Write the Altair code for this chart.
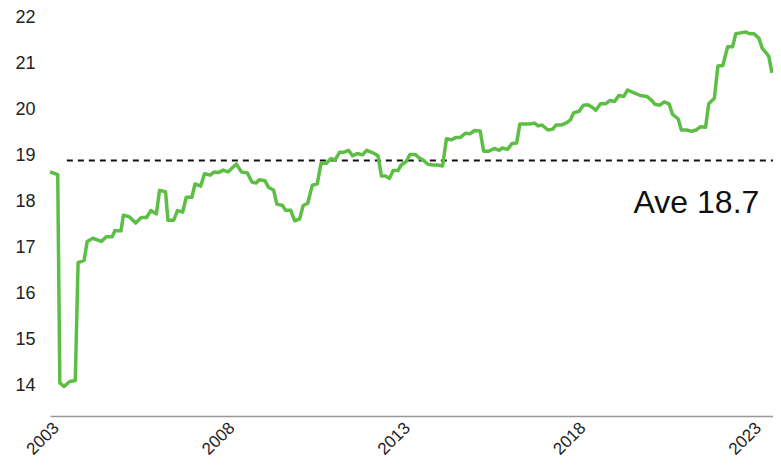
import altair as alt
import pandas as pd

years = [2002.83, 2003.05, 2003.11, 2003.23, 2003.39, 2003.55, 2003.63, 2003.80, 2003.89, 2004.05,
         2004.29, 2004.43, 2004.60, 2004.68, 2004.85, 2004.92, 2005.08, 2005.27, 2005.43, 2005.58,
         2005.70, 2005.86, 2005.95, 2006.12, 2006.19, 2006.35, 2006.46, 2006.61, 2006.71, 2006.87,
         2006.96, 2007.12, 2007.23, 2007.39, 2007.51, 2007.64, 2007.76, 2007.90, 2008.04, 2008.14,
         2008.28, 2008.45, 2008.58, 2008.70, 2008.79, 2008.95, 2009.05, 2009.20, 2009.29, 2009.45,
         2009.54, 2009.68, 2009.80, 2009.94, 2010.04, 2010.17, 2010.30, 2010.44, 2010.55, 2010.70,
         2010.83, 2010.95, 2011.08, 2011.21, 2011.33, 2011.45, 2011.58, 2011.73, 2011.85, 2012.01,
         2012.17, 2012.27, 2012.39, 2012.50, 2012.60, 2012.74, 2012.83, 2012.97, 2013.08, 2013.23,
         2013.35, 2013.46, 2013.58, 2013.72, 2013.86, 2014.01, 2014.12, 2014.27, 2014.38, 2014.52,
         2014.66, 2014.80, 2014.92, 2015.08, 2015.18, 2015.32, 2015.49, 2015.62, 2015.71, 2015.86,
         2015.99, 2016.12, 2016.21, 2016.35, 2016.49, 2016.63, 2016.73, 2016.84, 2017.01, 2017.15,
         2017.24, 2017.40, 2017.55, 2017.65, 2017.74, 2017.90, 2018.02, 2018.15, 2018.28, 2018.37,
         2018.51, 2018.65, 2018.77, 2018.91, 2019.03, 2019.17, 2019.28, 2019.45, 2019.64, 2019.83,
         2019.97, 2020.06, 2020.20, 2020.32, 2020.46, 2020.56, 2020.72, 2020.81, 2020.97, 2021.09,
         2021.23, 2021.35, 2021.50, 2021.59, 2021.75, 2021.85, 2021.99, 2022.13, 2022.27, 2022.36,
         2022.50, 2022.64, 2022.75, 2022.88, 2023.02, 2023.11, 2023.23, 2023.30, 2023.39]

values = [18.64, 18.58, 14.06, 13.98, 14.09, 14.11, 16.67, 16.72, 17.13, 17.20,
          17.13, 17.23, 17.23, 17.37, 17.36, 17.70, 17.67, 17.53, 17.65, 17.65,
          17.80, 17.73, 18.24, 18.21, 17.59, 17.59, 17.80, 17.77, 18.09, 18.09,
          18.38, 18.33, 18.60, 18.57, 18.64, 18.63, 18.68, 18.64, 18.74, 18.81,
          18.64, 18.62, 18.42, 18.40, 18.47, 18.45, 18.31, 18.24, 17.94, 17.91,
          17.81, 17.81, 17.58, 17.62, 17.91, 17.96, 18.35, 18.38, 18.83, 18.83,
          18.93, 18.90, 19.07, 19.07, 19.11, 18.99, 19.04, 19.01, 19.11, 19.06,
          18.99, 18.55, 18.55, 18.50, 18.67, 18.67, 18.79, 18.86, 19.02, 19.02,
          18.94, 18.90, 18.81, 18.79, 18.79, 18.77, 19.36, 19.34, 19.39, 19.39,
          19.48, 19.47, 19.54, 19.53, 19.09, 19.09, 19.15, 19.11, 19.16, 19.13,
          19.26, 19.27, 19.68, 19.68, 19.68, 19.70, 19.64, 19.66, 19.55, 19.57,
          19.66, 19.66, 19.71, 19.77, 19.92, 19.96, 20.09, 20.10, 20.04, 19.98,
          20.12, 20.12, 20.19, 20.17, 20.30, 20.28, 20.42, 20.36, 20.30, 20.28,
          20.19, 20.11, 20.09, 20.16, 20.12, 19.89, 19.79, 19.55, 19.55, 19.52,
          19.55, 19.62, 19.61, 20.12, 20.24, 20.94, 20.95, 21.36, 21.36, 21.64,
          21.66, 21.68, 21.64, 21.64, 21.54, 21.33, 21.22, 21.15, 20.79]

x_ticks = [2003, 2008, 2013, 2018, 2023]
y_ticks = [14, 15, 16, 17, 18, 19, 20, 21, 22]
avg_level = 18.89
avg_start = 2003.31
avg_label = "Ave 18.7"
label_pos = [2019.45, 17.745]

x_domain = [2002.83, 2023.42]
y_domain = [13.34, 22.2]

FONT = "Liberation Sans"

df = pd.DataFrame({"year": years, "value": values})
avg_df = pd.DataFrame({"x": [avg_start], "x2": [x_domain[1]], "y": [avg_level]})
txt_df = pd.DataFrame({"x": [label_pos[0]], "y": [label_pos[1]], "t": [avg_label]})

xscale = alt.Scale(domain=x_domain, nice=False, zero=False)
yscale = alt.Scale(domain=y_domain, nice=False, zero=False)

line = alt.Chart(df).mark_line(color="#5dbe46", strokeWidth=3.5, strokeJoin="round").encode(
    x=alt.X("year:Q", scale=xscale, title=None,
            axis=alt.Axis(values=x_ticks, format="d", labelAngle=-45, ticks=False,
                          grid=False, domain=True, domainColor="#999999", domainWidth=1.5,
                          labelFontSize=17, labelFont=FONT, labelColor="#222222",
                          labelAlign="right", labelBaseline="middle",
                          labelPadding=9, labelFlush=False, labelOverlap=False)),
    y=alt.Y("value:Q", scale=yscale, title=None,
            axis=alt.Axis(values=y_ticks, ticks=False, grid=False, domain=False,
                          labelFontSize=18, labelFont=FONT, labelColor="#222222",
                          labelPadding=15)),
)

rule = alt.Chart(avg_df).mark_rule(color="#111111", strokeWidth=2, strokeDash=[6, 5]).encode(
    x=alt.X("x:Q", scale=xscale), x2="x2:Q", y=alt.Y("y:Q", scale=yscale)
)

text = alt.Chart(txt_df).mark_text(align="left", baseline="alphabetic", fontSize=32,
                                   font=FONT, color="#111111").encode(
    x=alt.X("x:Q", scale=xscale), y=alt.Y("y:Q", scale=yscale), text="t:N"
)

chart = alt.layer(rule, line, text).properties(
    width=723, height=408,
    autosize=alt.AutoSizeParams(type="none"),
    padding={"left": 42, "top": 0, "right": 0, "bottom": 48},
).configure_view(stroke=None)

chart.save("out.html", embed_options={"renderer": "svg", "actions": False})
